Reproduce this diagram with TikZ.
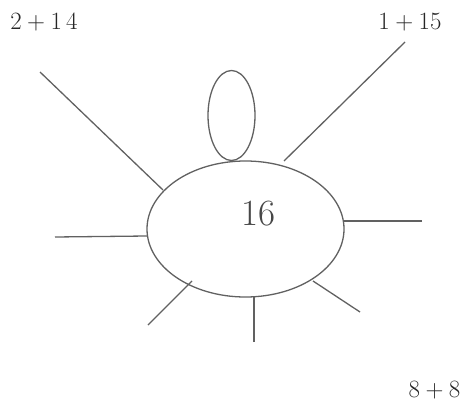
\documentclass[tikz,border=0pt]{standalone}
\usetikzlibrary{shapes.geometric}
\begin{document}
\begin{tikzpicture}[x=1pt,y=-1pt,
  ink/.style={draw=black!62, line width=1.3pt},
  oval/.style={ink, ellipse, inner sep=0pt},
  spoke/.style={ink},
  sumlabel/.style={text=black!85, font=\fontsize{24}{27}\selectfont, inner sep=0pt},
  biglabel/.style={text=black!72, font=\fontsize{37}{41}\selectfont, inner sep=0pt}]
\useasboundingbox (0,0) rectangle (466,404);
% ellipses
\node[oval, minimum width=197pt, minimum height=136pt] (big) at (245.5,229) {};
\node[oval, minimum width=47pt, minimum height=90pt] (small) at (231.5,115.5) {};
\node[biglabel] (n16) at (258,214) {16};
% labels
\node[sumlabel] (a) at (44,22) {$2+1\,4$};
\node[sumlabel] (b) at (410,22) {$1+15$};
\node[sumlabel] (c) at (434.5,390) {$8+8$};
% spoke end points
\coordinate (o1) at (40,72);   \coordinate (i1) at (163,190);
\coordinate (o2) at (405,42);  \coordinate (i2) at (284,161);
\coordinate (o3) at (55,237);  \coordinate (i3) at (147,236);
\coordinate (o4) at (422,221); \coordinate (i4) at (344,221);
\coordinate (o5) at (148,325); \coordinate (i5) at (192,281);
\coordinate (o6) at (254,342); \coordinate (i6) at (254,297);
\coordinate (o7) at (360,312); \coordinate (i7) at (313,281);
\foreach \k in {1,...,7} {\draw[spoke] (o\k) -- (i\k);}
\end{tikzpicture}
\end{document}
